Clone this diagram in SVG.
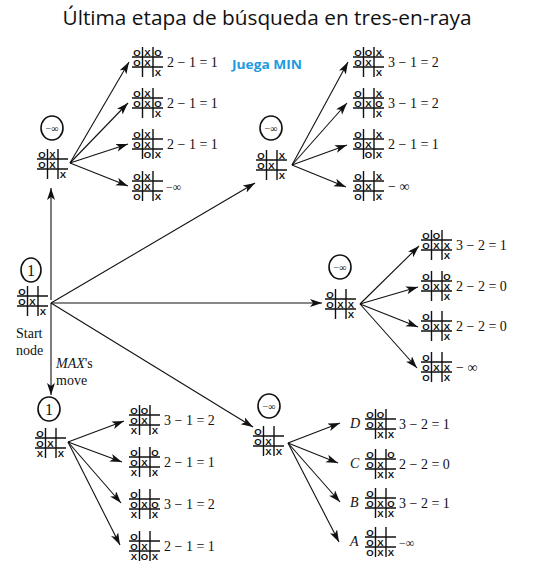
<svg xmlns="http://www.w3.org/2000/svg" xmlns:xlink="http://www.w3.org/1999/xlink" width="533" height="575" viewBox="0 0 533 575">
<defs>
<style>
.title{font-family:"Open Sans","Noto Sans",sans-serif;font-size:20px;fill:#111}
.juega{font-family:"Open Sans","Noto Sans",sans-serif;font-size:13px;font-weight:bold;fill:#1e9be0}
.m{font-family:"Liberation Sans Narrow","Liberation Sans",sans-serif;font-size:9.5px;font-weight:bold;text-anchor:middle;fill:#111}
.lbl{font-family:"Liberation Serif",serif;font-size:14px;fill:#111}
.ital{font-family:"Liberation Serif",serif;font-size:14px;font-style:italic;fill:#111}
.txt{font-family:"Liberation Serif",serif;font-size:14px;fill:#111}
.val{font-family:"Liberation Serif",serif;font-size:10px;text-anchor:middle;fill:#111}
.one{font-family:"Liberation Serif",serif;font-size:16px;text-anchor:middle;fill:#111}
.grid{stroke:#111;stroke-width:1.4;fill:none}
.circ{stroke:#111;stroke-width:1.6;fill:#fff}
.conn line{stroke:#111;stroke-width:1.1;marker-end:url(#ah)}
</style>
<marker id="ah" markerUnits="userSpaceOnUse" markerWidth="13" markerHeight="9" refX="12" refY="4" orient="auto">
<path d="M0,0 L12,4 L0,8 L3,4 z" fill="#111"/>
</marker>
<path id="grid" class="grid" d="M0 10H31M0 20H31M10.5 0V30M21 0V30"/>
</defs>
<rect width="533" height="575" fill="#fff"/>

<g id="title"><text class="title" x="267" y="25" text-anchor="middle" textLength="409" lengthAdjust="spacingAndGlyphs">Última etapa de búsqueda en tres-en-raya</text></g>
<g id="juega"><text class="juega" x="232" y="69" textLength="70" lengthAdjust="spacingAndGlyphs">Juega MIN</text></g>

<g id="connectors" class="conn">
<line x1="51" y1="300" x2="51" y2="188"/>
<line x1="51" y1="303" x2="51" y2="395"/>
<line x1="51" y1="303" x2="255" y2="183"/>
<line x1="51" y1="303" x2="322" y2="303"/>
<line x1="51" y1="303" x2="253" y2="427"/>
<line x1="70" y1="163" x2="129" y2="62"/>
<line x1="70" y1="163" x2="128" y2="103"/>
<line x1="70" y1="163" x2="128" y2="144"/>
<line x1="70" y1="163" x2="128" y2="186"/>
<line x1="292" y1="165" x2="348" y2="62"/>
<line x1="292" y1="165" x2="347" y2="103"/>
<line x1="292" y1="165" x2="347" y2="145"/>
<line x1="292" y1="165" x2="346" y2="187"/>
<line x1="360" y1="304" x2="419" y2="246"/>
<line x1="360" y1="304" x2="418" y2="287"/>
<line x1="360" y1="304" x2="418" y2="327"/>
<line x1="360" y1="304" x2="417" y2="368"/>
<line x1="68" y1="442" x2="124" y2="421"/>
<line x1="68" y1="442" x2="122" y2="462"/>
<line x1="68" y1="442" x2="121" y2="503"/>
<line x1="68" y1="442" x2="120" y2="545"/>
<line x1="288" y1="443" x2="340" y2="423"/>
<line x1="288" y1="443" x2="338" y2="463"/>
<line x1="288" y1="443" x2="340" y2="502"/>
<line x1="288" y1="443" x2="339" y2="542"/>
</g>

<!-- Start node -->
<g id="start">
<ellipse class="circ" cx="31" cy="270" rx="10" ry="12"/>
<text class="one" x="31" y="276">1</text>
<g transform="translate(17,286)"><use xlink:href="#grid"/>
<text class="m" x="5" y="8.5">O</text><text class="m" x="5" y="18.5">O</text><text class="m" x="15.5" y="18.5">X</text><text class="m" x="26" y="28.5">X</text></g>
<text class="txt" x="16" y="338">Start</text>
<text class="txt" x="16" y="355">node</text>
<text class="txt" x="56" y="368"><tspan font-style="italic">MAX</tspan>'s</text>
<text class="txt" x="56" y="385">move</text>
</g>

<!-- Top-left MIN node -->
<g id="tl">
<ellipse class="circ" cx="52" cy="128" rx="11" ry="12"/>
<text class="val" x="52" y="132">−∞</text>
<g transform="translate(37,149)"><use xlink:href="#grid"/>
<text class="m" x="5" y="8.5">O</text><text class="m" x="15.5" y="8.5">X</text><text class="m" x="5" y="18.5">O</text><text class="m" x="15.5" y="18.5">X</text><text class="m" x="26" y="28.5">X</text></g>
</g>
<g id="tl1" transform="translate(132,47)"><use xlink:href="#grid"/>
<text class="m" x="5" y="8.5">O</text><text class="m" x="15.5" y="8.5">X</text><text class="m" x="26" y="8.5">O</text><text class="m" x="5" y="18.5">O</text><text class="m" x="15.5" y="18.5">X</text><text class="m" x="26" y="28.5">X</text>
<text class="lbl" x="35" y="20">2 − 1 = 1</text></g>
<g id="tl2" transform="translate(132,88)"><use xlink:href="#grid"/>
<text class="m" x="5" y="8.5">O</text><text class="m" x="15.5" y="8.5">X</text><text class="m" x="5" y="18.5">O</text><text class="m" x="15.5" y="18.5">X</text><text class="m" x="26" y="18.5">O</text><text class="m" x="26" y="28.5">X</text>
<text class="lbl" x="35" y="20">2 − 1 = 1</text></g>
<g id="tl3" transform="translate(132,129)"><use xlink:href="#grid"/>
<text class="m" x="5" y="8.5">O</text><text class="m" x="15.5" y="8.5">X</text><text class="m" x="5" y="18.5">O</text><text class="m" x="15.5" y="18.5">X</text><text class="m" x="15.5" y="28.5">O</text><text class="m" x="26" y="28.5">X</text>
<text class="lbl" x="35" y="20">2 − 1 = 1</text></g>
<g id="tl4" transform="translate(132,171)"><use xlink:href="#grid"/>
<text class="m" x="5" y="8.5">O</text><text class="m" x="15.5" y="8.5">X</text><text class="m" x="5" y="18.5">O</text><text class="m" x="15.5" y="18.5">X</text><text class="m" x="5" y="28.5">O</text><text class="m" x="26" y="28.5">X</text>
<text class="lbl" x="34" y="20" style="font-size:12px">−∞</text></g>

<!-- Top-right MIN node -->
<g id="tr">
<ellipse class="circ" cx="271" cy="128" rx="11" ry="12"/>
<text class="val" x="271" y="132">−∞</text>
<g transform="translate(256,150)"><use xlink:href="#grid"/>
<text class="m" x="5" y="8.5">O</text><text class="m" x="26" y="8.5">X</text><text class="m" x="5" y="18.5">O</text><text class="m" x="15.5" y="18.5">X</text><text class="m" x="26" y="28.5">X</text></g>
</g>
<g id="tr1" transform="translate(353,47)"><use xlink:href="#grid"/>
<text class="m" x="5" y="8.5">O</text><text class="m" x="15.5" y="8.5">O</text><text class="m" x="26" y="8.5">X</text><text class="m" x="5" y="18.5">O</text><text class="m" x="15.5" y="18.5">X</text><text class="m" x="26" y="28.5">X</text>
<text class="lbl" x="35" y="20">3 − 1 = 2</text></g>
<g id="tr2" transform="translate(353,88)"><use xlink:href="#grid"/>
<text class="m" x="5" y="8.5">O</text><text class="m" x="26" y="8.5">X</text><text class="m" x="5" y="18.5">O</text><text class="m" x="15.5" y="18.5">X</text><text class="m" x="26" y="18.5">O</text><text class="m" x="26" y="28.5">X</text>
<text class="lbl" x="35" y="20">3 − 1 = 2</text></g>
<g id="tr3" transform="translate(353,129)"><use xlink:href="#grid"/>
<text class="m" x="5" y="8.5">O</text><text class="m" x="26" y="8.5">X</text><text class="m" x="5" y="18.5">O</text><text class="m" x="15.5" y="18.5">X</text><text class="m" x="15.5" y="28.5">O</text><text class="m" x="26" y="28.5">X</text>
<text class="lbl" x="35" y="20">2 − 1 = 1</text></g>
<g id="tr4" transform="translate(353,171)"><use xlink:href="#grid"/>
<text class="m" x="5" y="8.5">O</text><text class="m" x="26" y="8.5">X</text><text class="m" x="5" y="18.5">O</text><text class="m" x="15.5" y="18.5">X</text><text class="m" x="5" y="28.5">O</text><text class="m" x="26" y="28.5">X</text>
<text class="lbl" x="35" y="20">− ∞</text></g>

<!-- Middle-right MIN node -->
<g id="mr">
<ellipse class="circ" cx="340" cy="267" rx="11" ry="12"/>
<text class="val" x="340" y="271">−∞</text>
<g transform="translate(325,289)"><use xlink:href="#grid"/>
<text class="m" x="5" y="8.5">O</text><text class="m" x="5" y="18.5">O</text><text class="m" x="15.5" y="18.5">X</text><text class="m" x="26" y="18.5">X</text><text class="m" x="26" y="28.5">X</text></g>
</g>
<g id="mr1" transform="translate(421,230)"><use xlink:href="#grid"/>
<text class="m" x="5" y="8.5">O</text><text class="m" x="15.5" y="8.5">O</text><text class="m" x="5" y="18.5">O</text><text class="m" x="15.5" y="18.5">X</text><text class="m" x="26" y="18.5">X</text><text class="m" x="26" y="28.5">X</text>
<text class="lbl" x="35" y="20">3 − 2 = 1</text></g>
<g id="mr2" transform="translate(421,271)"><use xlink:href="#grid"/>
<text class="m" x="5" y="8.5">O</text><text class="m" x="26" y="8.5">O</text><text class="m" x="5" y="18.5">O</text><text class="m" x="15.5" y="18.5">X</text><text class="m" x="26" y="18.5">X</text><text class="m" x="26" y="28.5">X</text>
<text class="lbl" x="35" y="20">2 − 2 = 0</text></g>
<g id="mr3" transform="translate(421,311)"><use xlink:href="#grid"/>
<text class="m" x="5" y="8.5">O</text><text class="m" x="5" y="18.5">O</text><text class="m" x="15.5" y="18.5">X</text><text class="m" x="26" y="18.5">X</text><text class="m" x="26" y="28.5">X</text>
<text class="lbl" x="35" y="20">2 − 2 = 0</text></g>
<g id="mr4" transform="translate(421,352)"><use xlink:href="#grid"/>
<text class="m" x="5" y="8.5">O</text><text class="m" x="5" y="18.5">O</text><text class="m" x="15.5" y="18.5">X</text><text class="m" x="26" y="18.5">X</text><text class="m" x="5" y="28.5">O</text><text class="m" x="26" y="28.5">X</text>
<text class="lbl" x="35" y="20">− ∞</text></g>

<!-- Bottom-left node -->
<g id="bl">
<ellipse class="circ" cx="49" cy="409" rx="11" ry="12"/>
<text class="one" x="49" y="415">1</text>
<g transform="translate(35,428)"><use xlink:href="#grid"/>
<text class="m" x="5" y="8.5">O</text><text class="m" x="5" y="18.5">O</text><text class="m" x="15.5" y="18.5">X</text><text class="m" x="5" y="28.5">X</text><text class="m" x="26" y="28.5">X</text></g>
</g>
<g id="bl1" transform="translate(129,405)"><use xlink:href="#grid"/>
<text class="m" x="5" y="8.5">O</text><text class="m" x="15.5" y="8.5">O</text><text class="m" x="5" y="18.5">O</text><text class="m" x="15.5" y="18.5">X</text><text class="m" x="5" y="28.5">X</text><text class="m" x="26" y="28.5">X</text>
<text class="lbl" x="35" y="20">3 − 1 = 2</text></g>
<g id="bl2" transform="translate(129,447)"><use xlink:href="#grid"/>
<text class="m" x="5" y="8.5">O</text><text class="m" x="26" y="8.5">O</text><text class="m" x="5" y="18.5">O</text><text class="m" x="15.5" y="18.5">X</text><text class="m" x="5" y="28.5">X</text><text class="m" x="26" y="28.5">X</text>
<text class="lbl" x="35" y="20">2 − 1 = 1</text></g>
<g id="bl3" transform="translate(129,489)"><use xlink:href="#grid"/>
<text class="m" x="5" y="8.5">O</text><text class="m" x="5" y="18.5">O</text><text class="m" x="15.5" y="18.5">X</text><text class="m" x="26" y="18.5">O</text><text class="m" x="5" y="28.5">X</text><text class="m" x="26" y="28.5">X</text>
<text class="lbl" x="35" y="20">3 − 1 = 2</text></g>
<g id="bl4" transform="translate(129,531)"><use xlink:href="#grid"/>
<text class="m" x="5" y="8.5">O</text><text class="m" x="5" y="18.5">O</text><text class="m" x="15.5" y="18.5">X</text><text class="m" x="5" y="28.5">X</text><text class="m" x="15.5" y="28.5">O</text><text class="m" x="26" y="28.5">X</text>
<text class="lbl" x="35" y="20">2 − 1 = 1</text></g>

<!-- Bottom-middle MIN node -->
<g id="bm">
<ellipse class="circ" cx="269" cy="406" rx="11" ry="12"/>
<text class="val" x="269" y="410">−∞</text>
<g transform="translate(253,426)"><use xlink:href="#grid"/>
<text class="m" x="5" y="8.5">O</text><text class="m" x="5" y="18.5">O</text><text class="m" x="15.5" y="18.5">X</text><text class="m" x="15.5" y="28.5">X</text><text class="m" x="26" y="28.5">X</text></g>
</g>
<g id="bmD" transform="translate(365,409)"><use xlink:href="#grid"/>
<text class="ital" x="-15" y="19">D</text>
<text class="m" x="5" y="8.5">O</text><text class="m" x="15.5" y="8.5">O</text><text class="m" x="5" y="18.5">O</text><text class="m" x="15.5" y="18.5">X</text><text class="m" x="15.5" y="28.5">X</text><text class="m" x="26" y="28.5">X</text>
<text class="lbl" x="34" y="20">3 − 2 = 1</text></g>
<g id="bmC" transform="translate(365,449)"><use xlink:href="#grid"/>
<text class="ital" x="-15" y="19">C</text>
<text class="m" x="5" y="8.5">O</text><text class="m" x="26" y="8.5">O</text><text class="m" x="5" y="18.5">O</text><text class="m" x="15.5" y="18.5">X</text><text class="m" x="15.5" y="28.5">X</text><text class="m" x="26" y="28.5">X</text>
<text class="lbl" x="34" y="20">2 − 2 = 0</text></g>
<g id="bmB" transform="translate(365,488)"><use xlink:href="#grid"/>
<text class="ital" x="-15" y="19">B</text>
<text class="m" x="5" y="8.5">O</text><text class="m" x="5" y="18.5">O</text><text class="m" x="15.5" y="18.5">X</text><text class="m" x="26" y="18.5">O</text><text class="m" x="15.5" y="28.5">X</text><text class="m" x="26" y="28.5">X</text>
<text class="lbl" x="34" y="20">3 − 2 = 1</text></g>
<g id="bmA" transform="translate(365,527)"><use xlink:href="#grid"/>
<text class="ital" x="-15" y="19">A</text>
<text class="m" x="5" y="8.5">O</text><text class="m" x="5" y="18.5">O</text><text class="m" x="15.5" y="18.5">X</text><text class="m" x="5" y="28.5">O</text><text class="m" x="15.5" y="28.5">X</text><text class="m" x="26" y="28.5">X</text>
<text class="lbl" x="34" y="20" style="font-size:12px">−∞</text></g>
</svg>
